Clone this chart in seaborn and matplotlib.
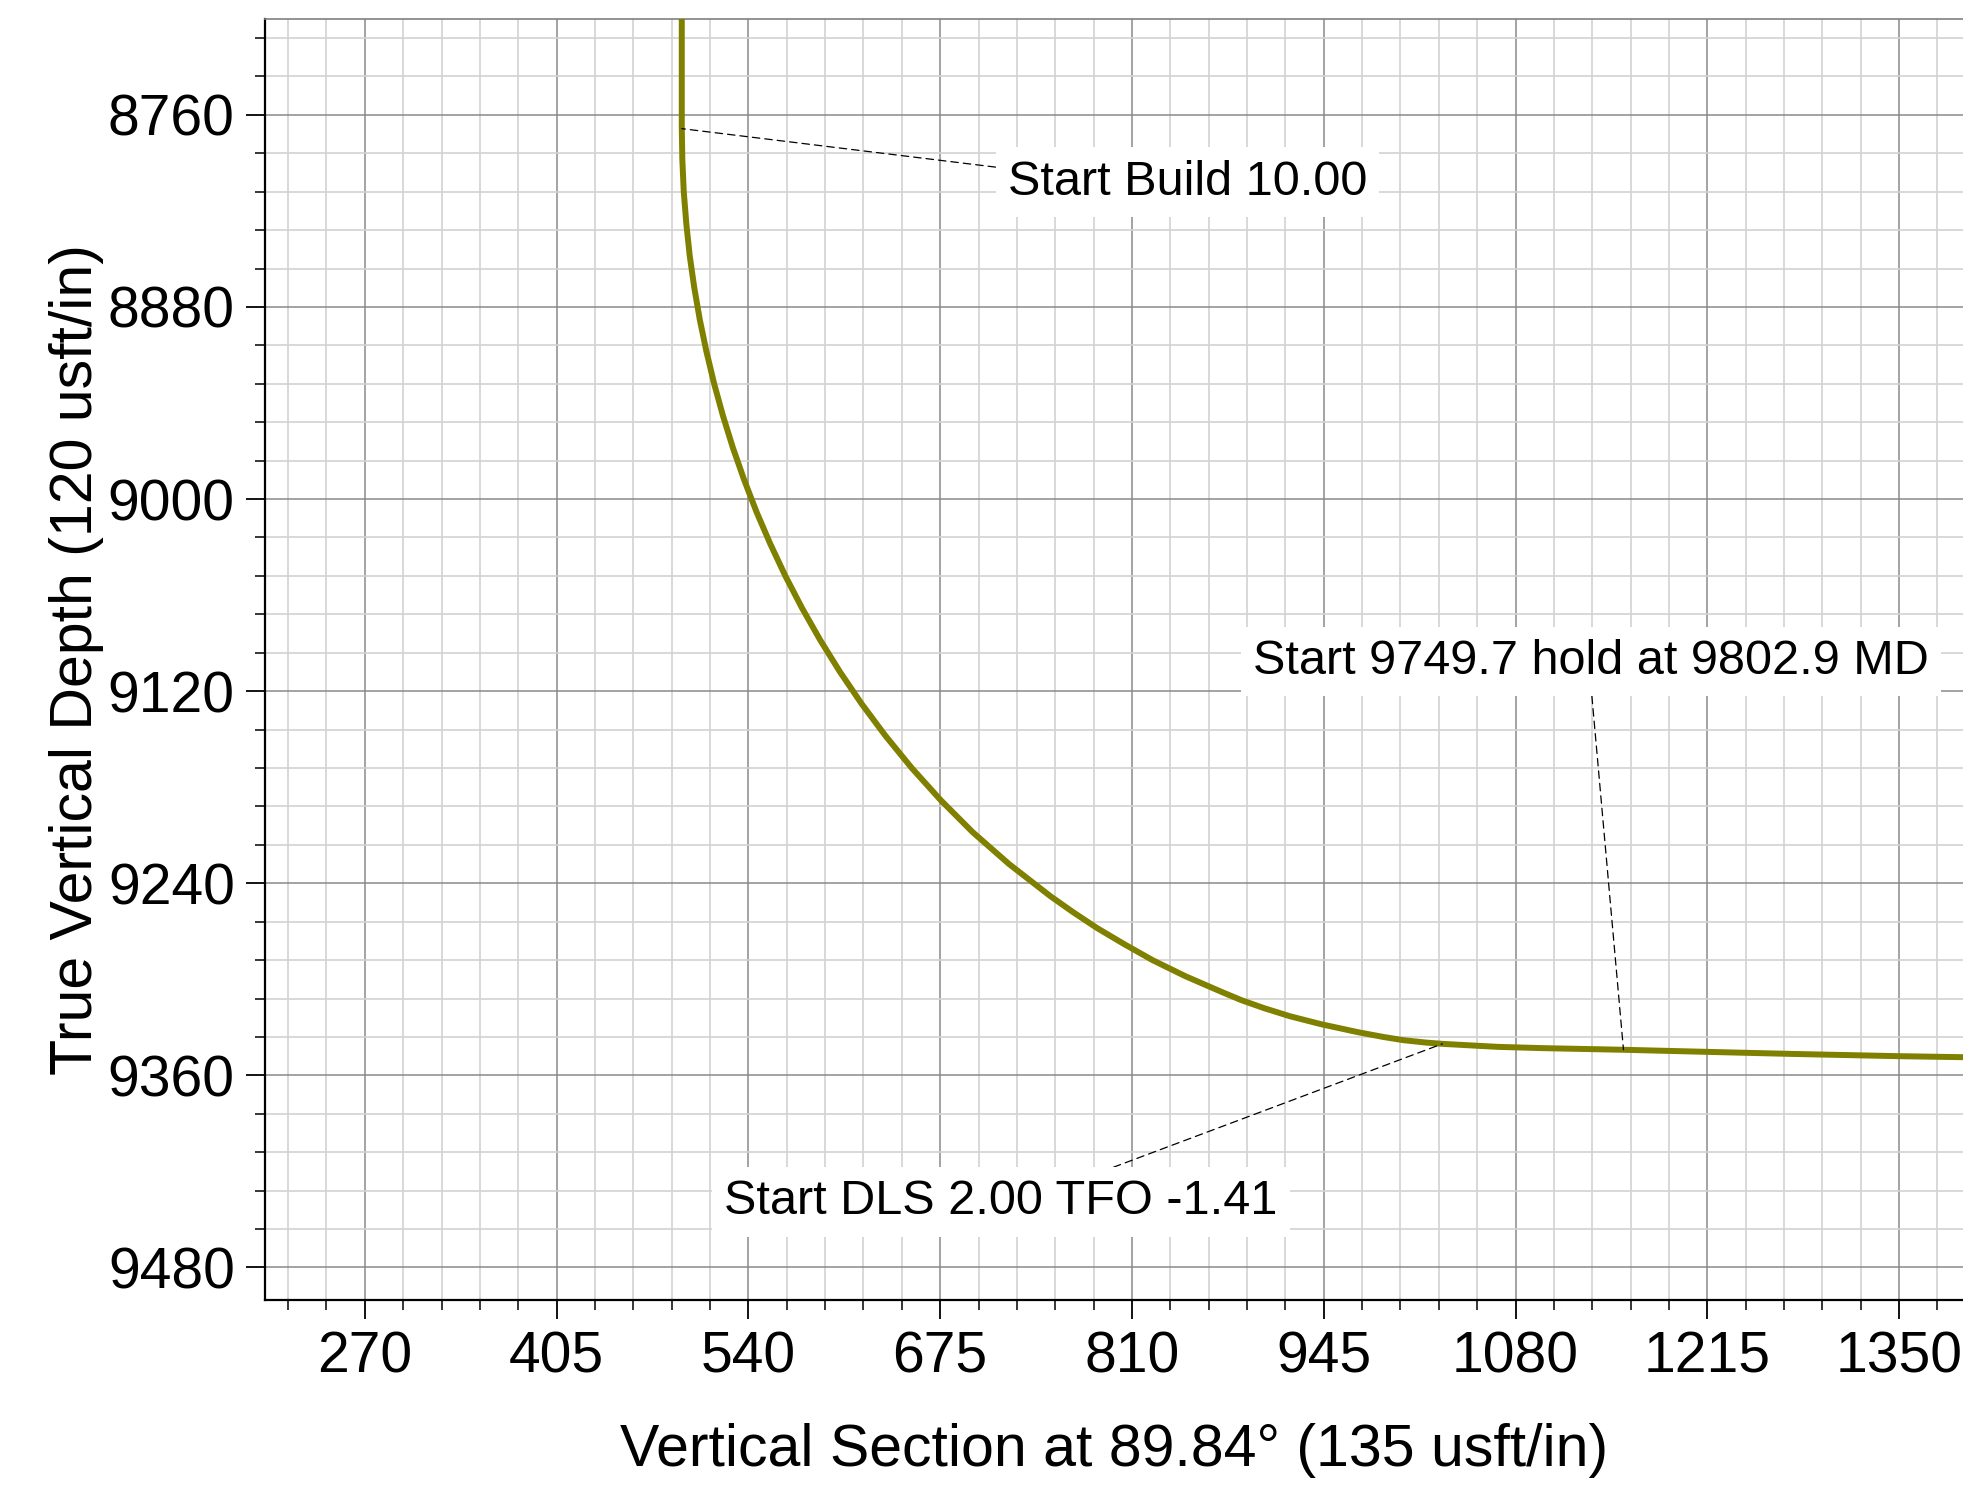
import numpy as np
import pandas as pd
import matplotlib
matplotlib.use("Agg")
import matplotlib.pyplot as plt
from matplotlib.ticker import MultipleLocator
import seaborn as sns

# well path (vertical, build, DLS, hold)
vs = [493.1, 493.1, 493.5, 494.5, 496.3, 498.7, 501.9, 505.8, 510.5, 515.9,
      522.1, 529.1, 537.0, 545.7, 555.4, 566.0, 577.7, 590.5, 604.5, 619.8,
      636.6, 655.0, 675.3, 697.8, 723.5, 738.0, 752.5, 768.5, 785.5, 804.5,
      824.5, 847.5, 873.5, 887.0, 903.0, 921.0, 943.0, 969.0, 987.0, 1001.0,
      1017.0, 1028.5, 1047.0, 1068.0, 1100.0, 1133.7, 1156.0, 1214.7, 1275.0, 1349.8,
      1400.0]
tvd = [8700.0, 8768.0, 8788.0, 8808.0, 8828.0, 8848.0, 8868.0, 8888.0, 8908.0, 8928.0,
       8948.0, 8968.0, 8988.0, 9008.0, 9028.0, 9048.0, 9068.0, 9088.0, 9108.0, 9128.0,
       9148.0, 9168.0, 9188.0, 9208.0, 9228.0, 9238.0, 9248.0, 9258.0, 9268.0, 9278.0,
       9288.0, 9298.0, 9308.0, 9313.0, 9318.0, 9323.0, 9328.0, 9333.0, 9336.0, 9338.0,
       9339.5, 9340.3, 9341.2, 9342.2, 9343.0, 9343.6, 9344.0, 9345.3, 9346.6, 9348.0,
       9348.7]

labels = ["Start Build 10.00", "Start 9749.7 hold at 9802.9 MD", "Start DLS 2.00 TFO -1.41"]
label_pts = [(493.1, 8768.6), (1156.0, 9344.0), (1028.5, 9340.3)]
label_txt = [(849.0, 8802.0), (1133.0, 9101.5), (717.7, 9439.0)]
label_rel = [(0.0, 0.8), (0.5, 0.0), (0.645, 1.0)]

df = pd.DataFrame({"vs": vs, "tvd": tvd})

sns.set_theme(style="white")
plt.rcParams["font.family"] = ["Liberation Sans", "DejaVu Sans"]
plt.rcParams["text.color"] = "black"
plt.rcParams["axes.labelcolor"] = "black"
plt.rcParams["xtick.color"] = "black"
plt.rcParams["ytick.color"] = "black"

fig = plt.figure(figsize=(19.63, 14.93), dpi=100)
ax = fig.add_axes([0.1352, 0.1296, 0.8648, 0.8578])

sns.lineplot(data=df, x="vs", y="tvd", sort=False, estimator=None,
             color="#808000", lw=4.3, ax=ax, zorder=4)

ax.set_xlim(200, 1395)
ax.set_ylim(9500, 8700)

ax.xaxis.set_major_locator(MultipleLocator(135))
ax.xaxis.set_minor_locator(MultipleLocator(27))
ax.yaxis.set_major_locator(MultipleLocator(120))
ax.yaxis.set_minor_locator(MultipleLocator(24))

ax.grid(which="major", color="#8a8a8a", lw=1.1, zorder=1)
ax.grid(which="minor", color="#d2d2d2", lw=1.2, zorder=0)
ax.set_axisbelow(True)

ax.tick_params(which="major", length=14, width=1.3, labelsize=41, pad=8,
               color="black", labelcolor="black", left=True, bottom=True)
ax.tick_params(which="minor", length=7, width=1.1, color="black",
               left=True, bottom=True)

for s in ["left", "bottom"]:
    ax.spines[s].set_color("black")
    ax.spines[s].set_linewidth(1.6)
ax.spines["top"].set_color("#808080")
ax.spines["top"].set_linewidth(1.2)
ax.spines["right"].set_visible(False)

ax.set_xlabel("Vertical Section at 89.84° (135 usft/in)", fontsize=42.5,
              labelpad=28, color="black")
ax.set_ylabel("True Vertical Depth (120 usft/in)", fontsize=42.5,
              labelpad=3, color="black")

for txt, pt, tp, rp in zip(labels, label_pts, label_txt, label_rel):
    ax.annotate(txt, xy=pt, xytext=tp, ha="center", va="center", fontsize=35,
                color="black",
                bbox=dict(boxstyle="square,pad=0.25", fc="white", ec="none"),
                arrowprops=dict(arrowstyle="-", color="black", lw=0.9,
                                ls=(0, (6, 4)), relpos=rp, shrinkA=0, shrinkB=0),
                zorder=5)

fig.savefig("out.png", dpi=100)
